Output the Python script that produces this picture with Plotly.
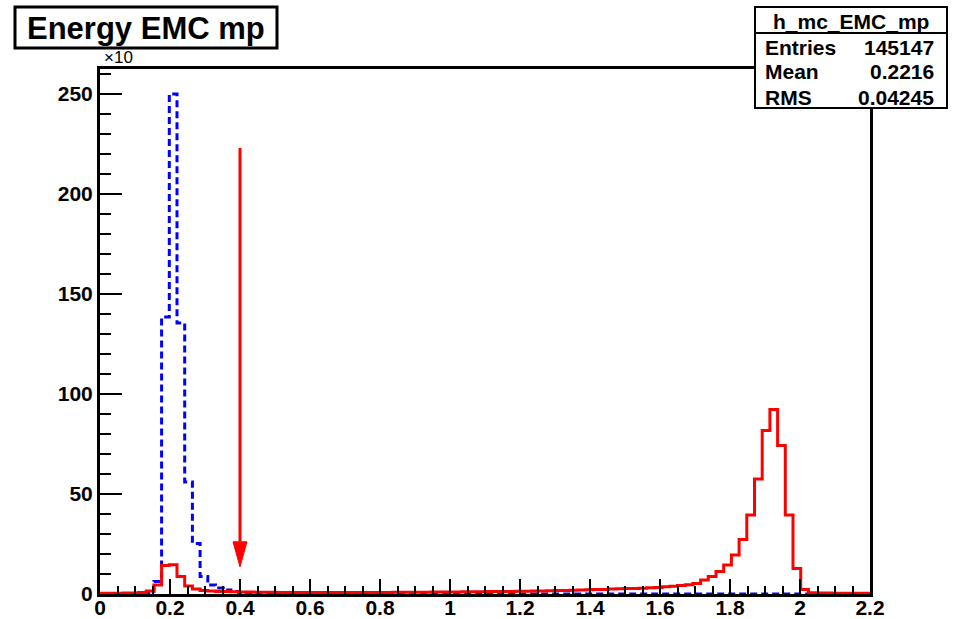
import plotly.graph_objects as go

# ---------------- data (values as displayed, in units of x10) ----------------
bin_width = 0.022
n_bins = 100

red_counts = [
    0.4, 0.4, 0.4, 0.5, 0.5, 0.7, 1.5, 4.5, 14.2, 14.6,
    8.7, 4.0, 2.5, 1.8, 1.5, 1.3, 1.2, 1.1, 1.0, 1.0,
    0.9, 0.9, 0.9, 0.8, 0.8, 0.8, 0.8, 0.8, 0.8, 0.8,
    0.8, 0.8, 0.8, 0.8, 0.8, 0.8, 0.8, 0.8, 0.9, 0.9,
    0.9, 0.9, 0.9, 1.0, 1.0, 1.0, 1.0, 1.1, 1.1, 1.1,
    1.2, 1.2, 1.3, 1.3, 1.4, 1.4, 1.5, 1.5, 1.6, 1.7,
    1.8, 1.9, 2.0, 2.1, 2.2, 2.3, 2.5, 2.6, 2.7, 2.8,
    2.9, 3.1, 3.3, 3.6, 3.9, 4.2, 4.6, 5.3, 7.0, 8.7,
    11.2, 14.5, 19.5, 27.3, 39.5, 57.5, 81.7, 92.3, 74.2, 39.5,
    12.8, 2.3, 0.6, 0.5, 0.5, 0.4, 0.4, 0.4, 0.4, 0.4,
]

blue_counts = [
    0.1, 0.1, 0.1, 0.1, 0.1, 0.1, 0.5, 6.2, 138.5, 250.0,
    135.5, 56.0, 25.3, 8.7, 4.5, 3.0, 2.0, 1.3, 0.8, 0.5,
    0.2, 0.2, 0.2, 0.2, 0.2, 0.0, 0.0, 0.0, 0.0, 0.0,
] + [0.0] * 70

x_tick_vals = [0, 0.2, 0.4, 0.6, 0.8, 1.0, 1.2, 1.4, 1.6, 1.8, 2.0, 2.2]
x_tick_text = ["0", "0.2", "0.4", "0.6", "0.8", "1", "1.2", "1.4", "1.6", "1.8", "2", "2.2"]
y_tick_vals = [0, 50, 100, 150, 200, 250]
y_tick_text = ["0", "50", "100", "150", "200", "250"]

title_text = "Energy EMC mp"
exponent_text = "\u00d710"
stats_name = "h_mc_EMC_mp"
stats_labels = ["Entries", "Mean", "RMS"]
stats_values = ["145147", "0.2216", "0.04245"]

arrow_x = 0.4
arrow_y_top = 223.0
arrow_y_tip = 13.6
arrow_head_len = 12.5
arrow_head_halfwidth = 0.02

# ---------------- layout geometry (pixels) ----------------
W, H = 955, 619
PL, PR, PT, PB = 100, 870, 69, 594


def px(xp):
    return (xp - PL) / (PR - PL)


def py(yp):
    return (PB - yp) / (PB - PT)


edges = [i * bin_width for i in range(n_bins + 1)]

fig = go.Figure()
fig.add_trace(go.Scatter(
    x=edges, y=blue_counts + [blue_counts[-1]], mode="lines", line_shape="hv",
    line=dict(color="#0000ff", width=3, dash="7px,4px"), showlegend=False,
    hoverinfo="skip"))
fig.add_trace(go.Scatter(
    x=edges, y=red_counts + [red_counts[-1]], mode="lines", line_shape="hv",
    line=dict(color="#ff0000", width=3), showlegend=False, hoverinfo="skip"))

tickfont = dict(family="Liberation Sans", size=21, color="black", weight="bold")

fig.update_layout(
    width=W, height=H,
    margin=dict(l=PL, r=W - PR, t=PT, b=H - PB, pad=0, autoexpand=False),
    paper_bgcolor="white", plot_bgcolor="white",
    showlegend=False,
    xaxis=dict(
        range=[0, 2.2], tickmode="array", tickvals=x_tick_vals, ticktext=x_tick_text,
        ticks="inside", ticklen=15, tickwidth=2, tickcolor="black",
        minor=dict(dtick=0.05, tick0=0, ticks="inside", ticklen=8, tickwidth=2,
                   tickcolor="black", showgrid=False),
        showline=True, linewidth=3, linecolor="black", mirror=True,
        showgrid=False, zeroline=False, tickfont=tickfont, fixedrange=True,
        automargin=False, ticklabelstandoff=-7,
    ),
    yaxis=dict(
        range=[0, 262.5], tickmode="array", tickvals=y_tick_vals, ticktext=y_tick_text,
        ticks="inside", ticklen=22, tickwidth=2, tickcolor="black",
        minor=dict(dtick=10, tick0=0, ticks="inside", ticklen=11, tickwidth=2,
                   tickcolor="black", showgrid=False),
        showline=True, linewidth=3, linecolor="black", mirror=True,
        showgrid=False, zeroline=False, tickfont=tickfont, fixedrange=True,
        automargin=False,
    ),
)

# red arrow
fig.add_shape(type="line", xref="x", yref="y", x0=arrow_x, x1=arrow_x,
              y0=arrow_y_top, y1=arrow_y_tip + arrow_head_len,
              line=dict(color="#ff0000", width=3))
fig.add_shape(type="path", xref="x", yref="y",
              path=(f"M {arrow_x - arrow_head_halfwidth},{arrow_y_tip + arrow_head_len} "
                    f"L {arrow_x + arrow_head_halfwidth},{arrow_y_tip + arrow_head_len} "
                    f"L {arrow_x},{arrow_y_tip} Z"),
              fillcolor="#ff0000", line=dict(color="#ff0000", width=1))

# title box
fig.add_shape(type="rect", xref="paper", yref="paper",
              x0=px(15), x1=px(277), y0=py(48), y1=py(7),
              fillcolor="white", line=dict(color="black", width=3))
fig.add_annotation(xref="paper", yref="paper", x=px(146), y=py(28),
                   xanchor="center", yanchor="middle", showarrow=False,
                   text=title_text,
                   font=dict(family="Liberation Sans", size=31, color="black", weight="bold"))

# exponent label
fig.add_annotation(xref="paper", yref="paper", x=px(102), y=py(58),
                   xanchor="left", yanchor="middle", showarrow=False,
                   text=exponent_text,
                   font=dict(family="Liberation Sans", size=17, color="black"))

# stats box
fig.add_shape(type="rect", xref="paper", yref="paper",
              x0=px(755), x1=px(947), y0=py(108), y1=py(7),
              fillcolor="white", line=dict(color="black", width=2))
fig.add_shape(type="line", xref="paper", yref="paper",
              x0=px(755), x1=px(947), y0=py(33), y1=py(33),
              line=dict(color="black", width=2))
statfont = dict(family="Liberation Sans", size=21, color="black", weight="bold")
fig.add_annotation(xref="paper", yref="paper", x=px(851), y=py(22),
                   xanchor="center", yanchor="middle", showarrow=False,
                   text=stats_name, font=statfont)
for i, (lab, val) in enumerate(zip(stats_labels, stats_values)):
    yc = 47 + 25 * i
    fig.add_annotation(xref="paper", yref="paper", x=px(763), y=py(yc),
                       xanchor="left", yanchor="middle", showarrow=False,
                       text=lab, font=statfont)
    fig.add_annotation(xref="paper", yref="paper", x=px(936), y=py(yc),
                       xanchor="right", yanchor="middle", showarrow=False,
                       text=val, font=statfont)

fig.write_html("out.html", config={"displayModeBar": False})
